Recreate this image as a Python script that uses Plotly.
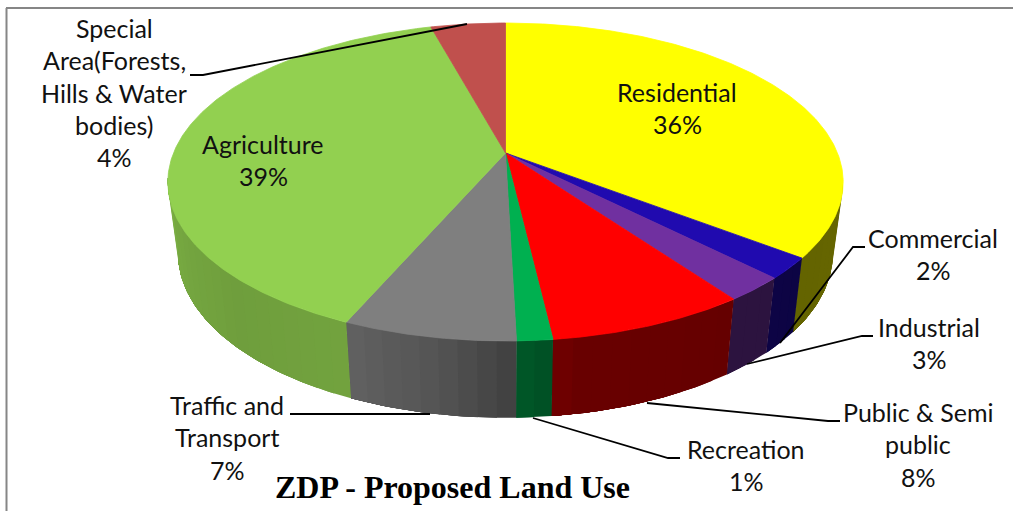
import numpy as np
import plotly.graph_objects as go

# ---- data ----
categories = ["Residential", "Commercial", "Industrial", "Public & Semi public", "Recreation",
              "Traffic and Transport", "Agriculture", "Special Area(Forests, Hills & Water bodies)"]
values = [35.40, 2.14, 2.50, 8.09, 1.44, 6.97, 39.20, 4.26]
percent_labels = ["36%", "2%", "3%", "8%", "1%", "7%", "39%", "4%"]
title_text = "ZDP - Proposed Land Use"

# ---- styling ----
top_colors = [(255, 255, 0), (32, 10, 175), (112, 48, 160), (255, 0, 0),
              (0, 176, 80), (127, 127, 127), (146, 208, 80), (192, 80, 77)]
label_lines = [
    ["Residential"], ["Commercial"], ["Industrial"], ["Public & Semi", "public"], ["Recreation"],
    ["Traffic and", "Transport"], ["Agriculture"], ["Special", "Area(Forests,", "Hills & Water", "bodies)"],
]
# x centre and y of first line of each label, in figure pixels
label_pos = [(677, 92), (933, 238), (929, 327), (918, 412), (746, 449), (227, 405), (263, 144), (114, 28)]
leaders = [
    None,
    [(780, 343), (853, 247), (865, 247)],
    [(747, 364), (862, 336), (873, 336)],
    [(647, 403), (828, 421), (840, 421)],
    [(533, 418), (668, 458), (680, 458)],
    [(430, 414), (290, 414)],
    None,
    [(467, 24), (203, 75), (190, 75)],
]
W, H = 1013, 511
CX, CY, R, A, K = 505.5, 153.0, 332.0, 153.7, 0.1824   # perspective of the disc
DROP, SCALE_X, SCALE_Y = 70.0, 0.97, 1.036             # bottom ring of the wall
LINE_PITCH = 32.3
FONT = "Lato"
FSIZE = 25

# wall shade (fraction of top colour) against clockwise angle from 12 o'clock
shade_ang = [60, 100, 130, 170, 180, 190, 205, 225, 245, 265, 300]
shade_val = [.40, .40, .39, .41, .52, .66, .78, .76, .80, .85, .85]
WALL_START, WALL_END = 99, 261


def project(theta_deg, bottom=False):
    t = np.radians(theta_deg)
    X, Y = np.sin(t), np.cos(t)
    den = 1 + K * Y
    sx, sy = R * X / den, -A * Y / den
    if bottom:
        return CX + SCALE_X * sx, CY + DROP + SCALE_Y * sy
    return CX + sx, CY + sy


def rgb(c, f=1.0):
    return "rgb(%d,%d,%d)" % tuple(int(round(v * f)) for v in c)


fig = go.Figure()
edges = np.concatenate([[0], np.cumsum(values)]) / sum(values) * 360

# side wall: each band runs to the end of its slice and is painted over by the next, so no seams
for i, col in enumerate(top_colors):
    a0, a1 = max(edges[i], WALL_START), min(edges[i + 1], WALL_END)
    if a1 <= a0:
        continue
    n = max(1, int(np.ceil((a1 - a0) / 3)))
    steps = np.linspace(a0, a1, n + 1)
    for s0, s1 in zip(steps[:-1], steps[1:]):
        ang = np.linspace(s0, a1, max(3, int(a1 - s0) + 2))
        tx, ty = project(ang)
        bx, by = project(ang, bottom=True)
        f = float(np.interp((s0 + s1) / 2, shade_ang, shade_val))
        c = rgb(col, f)
        fig.add_trace(go.Scatter(x=np.r_[tx, bx[::-1], tx[0]], y=np.r_[ty, by[::-1], ty[0]],
                                 mode="lines", fill="toself", fillcolor=c,
                                 line=dict(color=c, width=0), hoverinfo="skip", showlegend=False))

# top surface
for i, col in enumerate(top_colors):
    ang = np.linspace(edges[i], edges[i + 1], max(3, int(edges[i + 1] - edges[i]) * 2))
    x, y = project(ang)
    fig.add_trace(go.Scatter(x=np.r_[CX, x, CX], y=np.r_[CY, y, CY], mode="lines", fill="toself",
                             fillcolor=rgb(col), line=dict(color=rgb(col), width=0.8),
                             hoverinfo="skip", showlegend=False))

# leader lines
for pts in leaders:
    if pts:
        fig.add_trace(go.Scatter(x=[p[0] for p in pts], y=[p[1] for p in pts], mode="lines",
                                 line=dict(color="black", width=1.8), hoverinfo="skip", showlegend=False))

# labels, one annotation per line to keep the original line pitch
annotations = []
for lines, pct, (lx, ly) in zip(label_lines, percent_labels, label_pos):
    for j, txt in enumerate(lines + [pct]):
        annotations.append(dict(x=lx, y=ly + j * LINE_PITCH, text=txt, showarrow=False,
                                xanchor="center", yanchor="middle",
                                font=dict(family=FONT, size=FSIZE, color="#111111")))
annotations.append(dict(x=452, y=487, text="<b>%s</b>" % title_text, showarrow=False,
                        xanchor="center", yanchor="middle",
                        font=dict(family="Liberation Serif", size=32, color="black")))

shapes = [
    dict(type="line", x0=6, x1=W, y0=8, y1=8, line=dict(color="#868686", width=2)),
    dict(type="line", x0=6.5, x1=6.5, y0=8, y1=H, line=dict(color="#868686", width=2)),
]

fig.update_layout(
    width=W, height=H, margin=dict(l=0, r=0, t=0, b=0), autosize=False,
    paper_bgcolor="white", plot_bgcolor="white", showlegend=False,
    xaxis=dict(range=[0, W], visible=False, fixedrange=True),
    yaxis=dict(range=[H, 0], visible=False, fixedrange=True),
    annotations=annotations, shapes=shapes,
)
fig.write_html("out.html", config={"displayModeBar": False},
               post_script="document.body.style.margin='0';document.body.style.overflow='hidden';")
